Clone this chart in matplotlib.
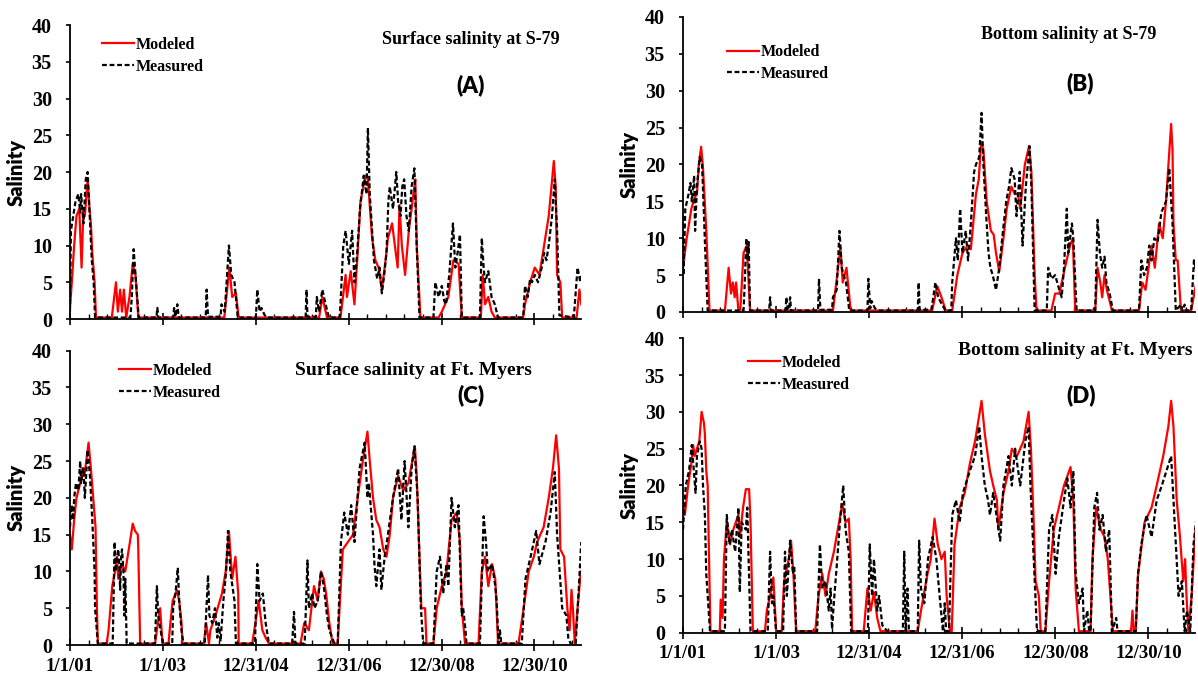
#!/usr/bin/env python
# coding: utf-8

r"""Salinity at S-79 and Ft. Myers, modeled vs measured (2001-2011)
    x : date
    y : salinity
"""
import numpy as np
import pandas as pd
import matplotlib
matplotlib.use("Agg")
from matplotlib import pyplot as plt
from matplotlib import dates as mdates
from matplotlib.ticker import FixedLocator
from matplotlib.font_manager import FontProperties

# values, as [decimal year, salinity]
a_mod = [[2001.0, 1.5], [2001.04, 5], [2001.09, 10], [2001.14, 14], [2001.2, 15], [2001.25, 7], [2001.29, 15],
         [2001.32, 14], [2001.38, 19], [2001.42, 15], [2001.45, 13], [2001.48, 9], [2001.53, 5], [2001.56, 0.2],
         [2001.9, 0.2], [2001.99, 5], [2002.03, 1], [2002.08, 4], [2002.12, 1], [2002.16, 4], [2002.21, 0.2],
         [2002.28, 3], [2002.35, 7.5], [2002.41, 6], [2002.47, 0.2],
         [2004.32, 0.2], [2004.43, 7], [2004.49, 3], [2004.57, 3.5], [2004.63, 0.2],
         [2006.36, 0.2], [2006.43, 3], [2006.53, 0.2],
         [2006.82, 0.2], [2006.93, 6], [2006.96, 3], [2007.04, 6.5], [2007.12, 2], [2007.18, 8], [2007.25, 16],
         [2007.36, 19.5], [2007.41, 19], [2007.5, 11], [2007.57, 8], [2007.64, 7], [2007.71, 4], [2007.79, 8],
         [2007.84, 11], [2007.93, 13], [2008.05, 7], [2008.09, 15.5], [2008.14, 10], [2008.21, 6], [2008.29, 12],
         [2008.39, 17], [2008.43, 19], [2008.46, 10], [2008.54, 0.2],
         [2008.93, 0.2], [2009.0, 1], [2009.14, 3], [2009.25, 8], [2009.36, 7.5], [2009.43, 0.2],
         [2009.84, 0.2], [2009.88, 6], [2009.93, 2], [2010.0, 3], [2010.07, 1], [2010.14, 0.2],
         [2010.75, 0.2], [2010.79, 2], [2010.9, 5], [2011.0, 7], [2011.1, 6], [2011.2, 10], [2011.3, 14],
         [2011.41, 21.5], [2011.45, 18], [2011.48, 6], [2011.55, 5], [2011.59, 0.2],
         [2011.9, 0.2], [2011.96, 4], [2012.0, 2]]
a_meas = [[2001.0, 1], [2001.02, 12], [2001.07, 14], [2001.12, 16], [2001.18, 17], [2001.22, 14.5], [2001.24, 17],
          [2001.29, 13], [2001.34, 19], [2001.38, 20], [2001.41, 16], [2001.47, 8], [2001.51, 5], [2001.54, 0.2],
          [2002.3, 0.2], [2002.33, 3], [2002.37, 9.5], [2002.41, 6], [2002.48, 0.2],
          [2002.86, 0.2], [2002.88, 1.5], [2002.9, 0.2], [2003.22, 0.2], [2003.24, 1.5], [2003.27, 0.3],
          [2003.31, 2], [2003.34, 0.2],
          [2003.92, 0.2], [2003.94, 4], [2003.97, 0.3], [2004.24, 0.3], [2004.26, 2], [2004.33, 1], [2004.38, 6],
          [2004.42, 10], [2004.47, 6], [2004.54, 5], [2004.61, 0.2],
          [2005.0, 0.2], [2005.03, 4], [2005.08, 1], [2005.12, 1.5], [2005.19, 0.5], [2005.25, 0.2],
          [2006.07, 0.2], [2006.09, 4], [2006.11, 0.3], [2006.29, 0.3], [2006.31, 3], [2006.36, 1], [2006.43, 4],
          [2006.5, 2], [2006.57, 0.2],
          [2006.8, 0.2], [2006.82, 2], [2006.88, 10], [2006.93, 12], [2007.0, 7.5], [2007.07, 12], [2007.12, 5],
          [2007.18, 9], [2007.24, 15], [2007.32, 19.5], [2007.38, 17], [2007.41, 26], [2007.45, 17], [2007.5, 12],
          [2007.54, 8], [2007.61, 5.5], [2007.66, 7], [2007.71, 3.5], [2007.76, 6], [2007.81, 9], [2007.85, 16],
          [2007.88, 18], [2007.95, 15], [2008.02, 20], [2008.06, 16], [2008.11, 14], [2008.15, 18], [2008.19, 19],
          [2008.24, 14], [2008.29, 12], [2008.35, 18], [2008.41, 20.5], [2008.46, 10], [2008.52, 0.2],
          [2008.82, 0.2], [2008.86, 5], [2008.93, 3], [2009.0, 4.5], [2009.05, 2.5], [2009.09, 2], [2009.16, 6],
          [2009.24, 13], [2009.29, 7], [2009.34, 9], [2009.39, 11.5], [2009.43, 0.2],
          [2009.82, 0.2], [2009.86, 11], [2009.9, 7], [2009.93, 5], [2010.0, 6.5], [2010.07, 3], [2010.14, 2],
          [2010.21, 0.2],
          [2010.75, 0.2], [2010.79, 4.5], [2010.85, 3], [2010.9, 5.5], [2010.94, 5], [2011.0, 6], [2011.07, 5],
          [2011.15, 7], [2011.2, 9], [2011.25, 8], [2011.3, 10], [2011.37, 14], [2011.43, 19], [2011.48, 12],
          [2011.53, 0.5], [2011.84, 0.2], [2011.92, 7], [2011.98, 5], [2012.0, 6]]

b_mod = [[2001.0, 6], [2001.08, 10], [2001.18, 14], [2001.25, 15.5], [2001.3, 16], [2001.34, 20], [2001.39, 22.4],
         [2001.43, 19.5], [2001.5, 11], [2001.57, 0.2],
         [2001.9, 0.2], [2001.98, 6], [2002.03, 2.5], [2002.07, 4], [2002.11, 2], [2002.14, 4], [2002.19, 0.2],
         [2002.23, 0.2], [2002.3, 8], [2002.37, 9], [2002.44, 0.2],
         [2004.22, 0.2], [2004.38, 8.7], [2004.43, 4], [2004.51, 6], [2004.6, 0.2],
         [2006.35, 0.2], [2006.46, 3.5], [2006.55, 2], [2006.64, 0.2],
         [2006.78, 0.2], [2006.89, 5], [2007.0, 8], [2007.11, 9], [2007.18, 8.5], [2007.29, 16], [2007.35, 18],
         [2007.4, 23], [2007.45, 22], [2007.52, 15], [2007.61, 11], [2007.67, 10.5], [2007.72, 8], [2007.79, 5.5],
         [2007.88, 10], [2007.95, 14], [2008.05, 17], [2008.12, 16], [2008.19, 16], [2008.24, 14], [2008.34, 20],
         [2008.43, 22.5], [2008.48, 19], [2008.55, 5], [2008.59, 0.2],
         [2008.91, 0.2], [2008.99, 2.5], [2009.08, 2.5], [2009.2, 6], [2009.31, 9], [2009.37, 10], [2009.42, 0.2],
         [2009.85, 0.2], [2009.9, 6], [2009.96, 4], [2010.0, 2], [2010.05, 5], [2010.1, 3], [2010.21, 0.2],
         [2010.79, 0.2], [2010.86, 4], [2010.93, 3], [2011.06, 9], [2011.13, 6], [2011.22, 12], [2011.3, 10],
         [2011.37, 15], [2011.48, 25.5], [2011.51, 22], [2011.53, 12], [2011.58, 7], [2011.62, 7], [2011.69, 0.2],
         [2011.91, 0.2], [2012.02, 4]]
b_meas = [[2001.0, 13], [2001.01, 5], [2001.05, 14], [2001.12, 16], [2001.16, 17.5], [2001.19, 15], [2001.24, 18.5],
          [2001.26, 11], [2001.3, 17], [2001.36, 21], [2001.41, 20], [2001.48, 8], [2001.5, 5], [2001.53, 0.2],
          [2002.3, 0.2], [2002.32, 3], [2002.36, 10], [2002.39, 7], [2002.41, 9.5], [2002.44, 0.2],
          [2002.85, 0.2], [2002.87, 2], [2002.89, 0.2], [2003.2, 0.2], [2003.22, 2], [2003.25, 0.3], [2003.28, 0.3],
          [2003.3, 2], [2003.32, 0.2],
          [2003.9, 0.2], [2003.92, 4.5], [2003.95, 0.3], [2004.2, 0.3], [2004.22, 2], [2004.3, 3], [2004.36, 11],
          [2004.41, 6], [2004.45, 5], [2004.5, 4], [2004.57, 0.2],
          [2004.96, 0.2], [2004.98, 4.5], [2005.02, 0.5], [2005.05, 1.5], [2005.12, 0.5], [2005.2, 0.2],
          [2006.04, 0.2], [2006.06, 4], [2006.08, 0.3], [2006.33, 0.3], [2006.35, 1], [2006.42, 4], [2006.48, 2],
          [2006.56, 1], [2006.64, 0.2],
          [2006.76, 0.2], [2006.78, 4], [2006.86, 10], [2006.9, 7], [2006.95, 14], [2007.0, 8], [2007.07, 11],
          [2007.12, 7], [2007.18, 12], [2007.25, 19], [2007.29, 20], [2007.36, 21], [2007.41, 27], [2007.45, 20],
          [2007.51, 13], [2007.56, 8], [2007.6, 6], [2007.65, 5], [2007.72, 3], [2007.79, 6], [2007.87, 11],
          [2007.94, 15], [2008.0, 17], [2008.05, 19.5], [2008.12, 18], [2008.16, 13], [2008.23, 19], [2008.29, 9],
          [2008.36, 17], [2008.44, 22.5], [2008.48, 17], [2008.53, 5], [2008.55, 0.2],
          [2008.81, 0.2], [2008.84, 6], [2008.91, 4.5], [2008.99, 5], [2009.08, 3], [2009.13, 2], [2009.18, 6],
          [2009.24, 14], [2009.27, 8], [2009.35, 12], [2009.38, 10], [2009.45, 0.2],
          [2009.85, 0.2], [2009.9, 12.5], [2009.95, 8], [2010.0, 6], [2010.05, 7.5], [2010.09, 4], [2010.16, 2.5],
          [2010.23, 0.2],
          [2010.79, 0.2], [2010.84, 7], [2010.9, 5], [2010.96, 6], [2011.01, 9], [2011.06, 7], [2011.12, 10],
          [2011.19, 9.5], [2011.27, 13.5], [2011.37, 15], [2011.44, 19.5], [2011.51, 12], [2011.58, 0.2],
          [2011.69, 1], [2011.72, 0.2], [2011.77, 1], [2011.8, 0.2], [2011.91, 0.2], [2011.97, 7], [2012.04, 5]]

c_mod = [[2001.0, 15], [2001.04, 13], [2001.09, 17], [2001.14, 20], [2001.22, 22], [2001.27, 24], [2001.31, 23],
         [2001.4, 27.5], [2001.45, 24], [2001.5, 20], [2001.55, 16], [2001.58, 5], [2001.6, 0.2],
         [2001.79, 0.2], [2001.83, 2], [2001.91, 8], [2001.97, 10], [2002.01, 12], [2002.04, 9], [2002.12, 11],
         [2002.19, 10], [2002.29, 14], [2002.35, 16.5], [2002.4, 15.5], [2002.46, 15], [2002.47, 13], [2002.51, 0.2],
         [2002.83, 0.2], [2002.87, 2], [2002.94, 5], [2002.99, 0.2],
         [2003.12, 0.2], [2003.16, 3], [2003.21, 6], [2003.3, 7.5], [2003.35, 6], [2003.4, 3], [2003.42, 0.2],
         [2003.88, 0.2], [2003.93, 3], [2003.99, 0.2], [2004.02, 2], [2004.13, 4], [2004.27, 7], [2004.35, 10],
         [2004.42, 15.5], [2004.49, 9], [2004.56, 12], [2004.62, 7], [2004.63, 0.2],
         [2004.92, 0.2], [2004.99, 3], [2005.06, 6], [2005.14, 2], [2005.21, 1], [2005.28, 0.2],
         [2005.96, 0.2], [2006.04, 3], [2006.14, 2], [2006.25, 8], [2006.33, 6], [2006.4, 10], [2006.46, 9],
         [2006.51, 7], [2006.58, 3], [2006.65, 0.2],
         [2006.76, 0.2], [2006.8, 5], [2006.87, 13], [2006.98, 14], [2007.09, 15], [2007.19, 20], [2007.3, 25],
         [2007.4, 29], [2007.45, 25], [2007.52, 20], [2007.59, 17], [2007.66, 16], [2007.74, 13], [2007.81, 12],
         [2007.88, 15], [2007.95, 20], [2008.06, 23], [2008.17, 21], [2008.28, 22], [2008.42, 27], [2008.46, 23],
         [2008.53, 10], [2008.56, 5], [2008.64, 5], [2008.67, 0.2],
         [2008.82, 0.2], [2008.89, 5], [2009.0, 8], [2009.1, 10], [2009.21, 17], [2009.32, 18], [2009.39, 14],
         [2009.43, 5], [2009.5, 0.2],
         [2009.79, 0.2], [2009.86, 10], [2009.93, 12], [2010.0, 8], [2010.08, 11], [2010.15, 9], [2010.21, 0.2],
         [2010.65, 0.2], [2010.76, 5], [2010.87, 10], [2010.98, 12], [2011.05, 14], [2011.19, 16], [2011.3, 20],
         [2011.39, 24], [2011.46, 28.5], [2011.52, 24], [2011.55, 13], [2011.63, 12], [2011.7, 5], [2011.75, 2],
         [2011.79, 7.5], [2011.82, 5], [2011.86, 0.2], [2011.92, 5], [2011.99, 10]]
c_meas = [[2001.0, 16], [2001.04, 19], [2001.07, 17], [2001.09, 20], [2001.13, 22], [2001.18, 21], [2001.22, 25],
          [2001.24, 22], [2001.29, 24], [2001.32, 20], [2001.38, 26.5], [2001.43, 23], [2001.48, 17], [2001.53, 10],
          [2001.54, 5], [2001.6, 0.2],
          [2001.92, 0.2], [2001.96, 14], [2001.99, 10], [2002.02, 12], [2002.04, 13], [2002.06, 11], [2002.08, 7.5],
          [2002.1, 12], [2002.12, 13], [2002.15, 10], [2002.17, 4], [2002.19, 9], [2002.22, 0.2],
          [2002.83, 0.2], [2002.87, 8], [2002.9, 4], [2002.95, 2], [2003.0, 0.2],
          [2003.2, 0.2], [2003.22, 5], [2003.27, 7], [2003.32, 10.5], [2003.35, 6], [2003.4, 2], [2003.44, 0.2],
          [2003.9, 0.2], [2003.97, 9.5], [2004.0, 4], [2004.06, 3], [2004.12, 5], [2004.17, 1], [2004.2, 3],
          [2004.24, 0.5], [2004.3, 6], [2004.36, 10], [2004.4, 15.5], [2004.45, 10], [2004.54, 6], [2004.57, 0.2],
          [2004.98, 0.2], [2005.03, 11], [2005.08, 6], [2005.15, 7], [2005.21, 3], [2005.28, 0.2],
          [2005.78, 0.2], [2005.82, 4.5], [2005.85, 0.2],
          [2006.05, 0.2], [2006.11, 11.5], [2006.14, 5], [2006.21, 7], [2006.26, 5], [2006.33, 6], [2006.4, 10],
          [2006.46, 8], [2006.53, 4], [2006.58, 2], [2006.69, 0.2],
          [2006.76, 0.2], [2006.8, 8], [2006.83, 14], [2006.9, 18], [2006.98, 15], [2007.05, 19], [2007.12, 14],
          [2007.23, 24], [2007.34, 27.5], [2007.4, 20], [2007.43, 22], [2007.52, 15], [2007.55, 11], [2007.59, 8],
          [2007.66, 13], [2007.7, 7.5], [2007.77, 12], [2007.84, 15], [2007.95, 20], [2008.06, 24], [2008.13, 17],
          [2008.2, 25], [2008.28, 16], [2008.35, 24], [2008.41, 27], [2008.48, 20], [2008.55, 5], [2008.6, 0.2],
          [2008.82, 0.2], [2008.89, 10], [2008.96, 12], [2009.03, 7], [2009.1, 11], [2009.14, 8], [2009.21, 20],
          [2009.28, 16], [2009.36, 19], [2009.39, 12], [2009.43, 4], [2009.46, 5], [2009.51, 2], [2009.53, 0.2],
          [2009.82, 0.2], [2009.9, 17.5], [2009.95, 14], [2009.99, 10], [2010.08, 11], [2010.15, 8], [2010.18, 6],
          [2010.22, 0.2], [2010.25, 2], [2010.28, 0.2],
          [2010.72, 0.2], [2010.8, 9], [2010.91, 12], [2011.03, 15.5], [2011.1, 11], [2011.23, 14], [2011.34, 18],
          [2011.43, 23.5], [2011.48, 15], [2011.59, 5], [2011.68, 4], [2011.72, 1], [2011.77, 0.2], [2011.88, 0.2],
          [2011.95, 8], [2012.0, 14]]

d_mod = [[2001.0, 18], [2001.04, 16], [2001.11, 20], [2001.18, 23], [2001.22, 25.5], [2001.25, 24], [2001.3, 25],
         [2001.35, 26], [2001.4, 30], [2001.45, 28.5], [2001.47, 27], [2001.5, 22], [2001.53, 20], [2001.56, 10],
         [2001.59, 0.2],
         [2001.79, 0.2], [2001.81, 4.5], [2001.85, 2], [2001.88, 10], [2001.94, 15], [2002.01, 12], [2002.08, 14],
         [2002.19, 16], [2002.22, 13], [2002.29, 17], [2002.35, 19.5], [2002.42, 19.5], [2002.45, 15], [2002.5, 0.2],
         [2002.76, 0.2], [2002.8, 3], [2002.87, 5], [2002.94, 7.5], [2003.0, 0.2],
         [2003.12, 0.2], [2003.17, 7], [2003.27, 10], [2003.32, 12.5], [2003.37, 8], [2003.43, 0.2],
         [2003.84, 0.2], [2003.91, 5], [2003.99, 8], [2004.06, 5], [2004.13, 8], [2004.24, 11], [2004.42, 17.5],
         [2004.49, 15], [2004.56, 15.5], [2004.6, 10], [2004.63, 0.2],
         [2004.88, 0.2], [2004.96, 6], [2005.03, 3], [2005.1, 5.5], [2005.17, 2], [2005.24, 0.2],
         [2006.04, 0.2], [2006.11, 3], [2006.25, 8], [2006.32, 10], [2006.4, 15.5], [2006.47, 12], [2006.55, 10],
         [2006.62, 11], [2006.66, 5], [2006.73, 0.2],
         [2006.77, 0.2], [2006.83, 12], [2006.94, 17], [2007.05, 19], [2007.16, 23], [2007.27, 26], [2007.41, 31.5],
         [2007.48, 27], [2007.59, 22], [2007.66, 20], [2007.74, 18], [2007.77, 14], [2007.88, 19], [2007.99, 22],
         [2008.06, 25], [2008.17, 24], [2008.31, 26], [2008.42, 30], [2008.47, 25], [2008.53, 15], [2008.57, 7],
         [2008.64, 5], [2008.68, 0.2],
         [2008.78, 0.2], [2008.86, 7], [2008.96, 14], [2009.07, 17], [2009.18, 20], [2009.32, 22.5], [2009.38, 18],
         [2009.43, 6], [2009.5, 0.2],
         [2009.75, 0.2], [2009.79, 10], [2009.87, 17], [2009.97, 14], [2010.05, 13], [2010.12, 10], [2010.23, 0.2],
         [2010.62, 0.2], [2010.65, 3], [2010.68, 0.2],
         [2010.72, 0.2], [2010.77, 8], [2010.91, 15], [2011.06, 17], [2011.17, 20], [2011.31, 24], [2011.42, 28],
         [2011.48, 31.5], [2011.53, 28], [2011.6, 18], [2011.67, 13], [2011.74, 7], [2011.78, 10], [2011.81, 5],
         [2011.85, 0.2], [2011.92, 5], [2012.0, 14]]
d_meas = [[2001.0, 14], [2001.06, 20], [2001.13, 22], [2001.19, 25.5], [2001.27, 19], [2001.3, 24], [2001.36, 26],
          [2001.4, 25], [2001.43, 20], [2001.47, 16], [2001.5, 8], [2001.58, 0.2],
          [2001.9, 0.2], [2001.94, 16], [2002.0, 12], [2002.05, 14], [2002.12, 11], [2002.19, 17], [2002.22, 5.5],
          [2002.26, 15], [2002.35, 14], [2002.38, 17], [2002.45, 0.2],
          [2002.82, 0.2], [2002.87, 11], [2002.91, 4], [2002.94, 5], [2003.0, 0.2],
          [2003.15, 0.2], [2003.19, 11], [2003.23, 5], [2003.3, 12.5], [2003.36, 8], [2003.39, 9], [2003.43, 0.2],
          [2003.88, 0.2], [2003.94, 12], [2003.99, 6], [2004.06, 7], [2004.13, 3], [2004.17, 6], [2004.2, 0.5],
          [2004.25, 5], [2004.3, 9], [2004.37, 15], [2004.44, 20], [2004.49, 14], [2004.56, 11], [2004.61, 0.2],
          [2004.97, 0.2], [2005.01, 12], [2005.06, 5], [2005.1, 10], [2005.17, 3], [2005.21, 5], [2005.28, 1],
          [2005.39, 0.2],
          [2005.72, 0.2], [2005.75, 11], [2005.78, 0.2], [2005.82, 6], [2005.85, 0.2],
          [2006.04, 0.2], [2006.07, 12.5], [2006.11, 6], [2006.18, 4], [2006.26, 10], [2006.36, 13], [2006.44, 10],
          [2006.51, 5], [2006.58, 0.2], [2006.62, 4], [2006.65, 0.2],
          [2006.71, 0.2], [2006.78, 16], [2006.86, 18], [2006.94, 15], [2007.01, 19], [2007.16, 22], [2007.27, 24],
          [2007.36, 28], [2007.41, 24], [2007.48, 20], [2007.55, 18], [2007.59, 16], [2007.66, 19], [2007.81, 12.5],
          [2007.88, 20], [2007.99, 24], [2008.06, 20], [2008.13, 25], [2008.24, 20], [2008.35, 26], [2008.42, 28],
          [2008.46, 20], [2008.6, 0.2],
          [2008.78, 0.2], [2008.86, 14], [2008.93, 16], [2009.0, 8], [2009.07, 13], [2009.18, 18], [2009.25, 21],
          [2009.32, 17], [2009.38, 22], [2009.43, 8], [2009.5, 4], [2009.58, 6], [2009.61, 0.2], [2009.68, 3],
          [2009.72, 0.2],
          [2009.75, 0.2], [2009.83, 17], [2009.89, 19], [2009.94, 14], [2010.01, 16], [2010.08, 11], [2010.15, 14],
          [2010.21, 0.2], [2010.3, 2], [2010.33, 0.2],
          [2010.72, 0.2], [2010.77, 8], [2010.84, 12], [2010.95, 16], [2011.06, 13], [2011.17, 18], [2011.28, 20],
          [2011.38, 22], [2011.48, 24], [2011.53, 18], [2011.64, 5], [2011.71, 7], [2011.77, 0.2], [2011.82, 3],
          [2011.89, 0.2], [2011.96, 12], [2012.03, 16]]

titles = ["Surface salinity at S-79", "Bottom salinity at S-79",
          "Surface salinity at Ft. Myers", "Bottom salinity at Ft. Myers"]
letters = ["(A)", "(B)", "(C)", "(D)"]
y_ticks = [0, 5, 10, 15, 20, 25, 30, 35, 40]

START = pd.Timestamp("2001-01-01")


def to_dates(years):
    return START + pd.to_timedelta((np.asarray(years) - 2001.0) * 365.25, unit="D")


def draw_panel(ax, mod, meas, title, letter, bottom, layout):
    mod = np.array(mod, dtype=float)
    meas = np.array(meas, dtype=float)
    ax.plot(to_dates(mod[:, 0]), mod[:, 1], color="#ff0000", lw=1.6, label="Modeled")
    ax.plot(to_dates(meas[:, 0]), meas[:, 1], color="black", lw=1.6,
            dashes=(2.2, 1.2), label="Measured")

    ax.set_ylim(0, 40)
    ax.set_yticks(y_ticks)
    ax.set_xlim(START, START + pd.Timedelta(days=4015))
    ax.xaxis.set_major_locator(FixedLocator(
        mdates.date2num(pd.date_range(START, periods=6, freq="730D"))))
    ax.xaxis.set_minor_locator(FixedLocator(
        mdates.date2num(pd.date_range(START, periods=28, freq="146D"))))
    ax.xaxis.set_major_formatter(mdates.DateFormatter("%-m/%-d/%y"))

    for side in ("top", "right"):
        ax.spines[side].set_visible(False)
    for side in ("left", "bottom"):
        ax.spines[side].set_linewidth(1.3)

    ax.tick_params(axis="y", direction="out", length=3, width=1.2, pad=10,
                   labelsize=14.5)
    ax.tick_params(axis="x", which="major", direction="inout", length=8,
                   width=1.2, pad=5, labelsize=13.5, labelbottom=bottom)
    ax.tick_params(axis="x", which="minor", direction="in", length=3.5, width=1)
    for lab in ax.get_xticklabels() + ax.get_yticklabels():
        lab.set_fontfamily("Liberation Serif")
        lab.set_fontweight("bold")

    ax.set_ylabel("Salinity", family="Lato", fontweight="heavy", fontsize=14.5)
    ax.yaxis.set_label_coords(-0.087, 0.5)

    leg_x, leg_y, tx, ty, tsize, t_ha, lx, ly = layout
    ax.legend(loc="upper left", bbox_to_anchor=(leg_x, leg_y), frameon=False,
              prop=FontProperties(family="Liberation Serif", weight="bold", size=11.5),
              handlelength=2.0, handletextpad=0.1, borderpad=0, borderaxespad=0,
              labelspacing=0.35)
    ax.text(tx, ty, title, transform=ax.transAxes, ha=t_ha, va="center",
            family="Liberation Serif", fontweight="bold", fontsize=tsize)
    ax.text(lx, ly, letter, transform=ax.transAxes, ha="center", va="center",
            family="Lato", fontweight="heavy", fontsize=16)


fig = plt.figure(figsize=(11.98, 6.74), dpi=100)

# [left, bottom, width, height] in figure fractions
boxes = [[0.0584, 0.5267, 0.4265, 0.4362],
         [0.5701, 0.5371, 0.4274, 0.4377],
         [0.0584, 0.0430, 0.4265, 0.4367],
         [0.5701, 0.0613, 0.4274, 0.4368]]
# legend x, legend y, title x, title y, title size, title align, letter x, letter y
layouts = [[0.063, 0.959, 0.785, 0.949, 13, "center", 0.785, 0.796],
           [0.086, 0.908, 0.754, 0.939, 13, "center", 0.775, 0.776],
           [0.096, 0.958, 0.673, 0.934, 14, "center", 0.785, 0.849],
           [0.127, 0.943, 0.996, 0.958, 14, "right", 0.777, 0.807]]
series = [(a_mod, a_meas), (b_mod, b_meas), (c_mod, c_meas), (d_mod, d_meas)]

for i in range(4):
    ax = fig.add_axes(boxes[i])
    draw_panel(ax, series[i][0], series[i][1], titles[i], letters[i],
               bottom=(i >= 2), layout=layouts[i])

fig.savefig("out.png", dpi=100)
